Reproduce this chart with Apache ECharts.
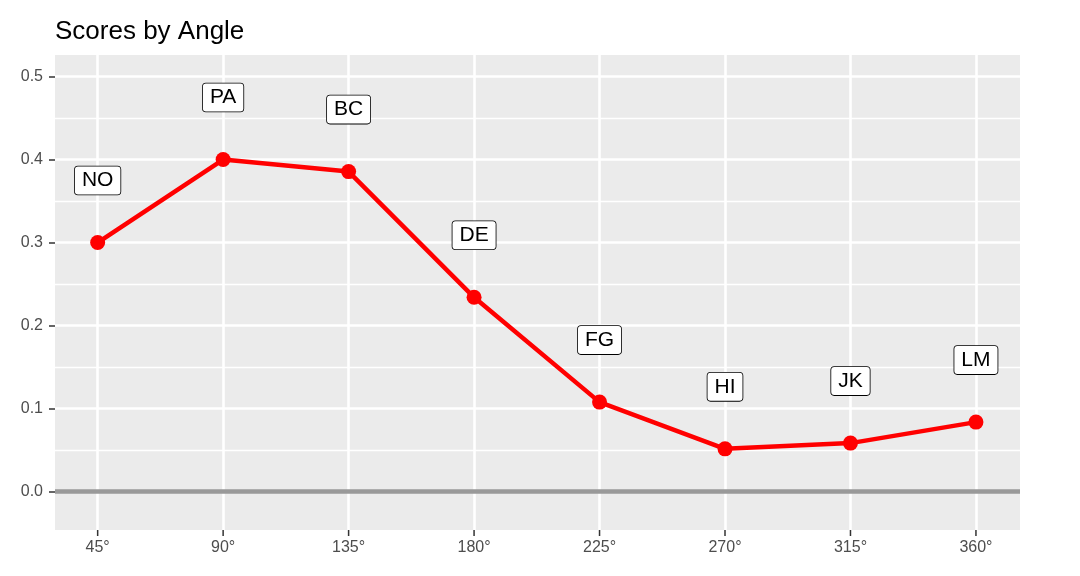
<!DOCTYPE html>
<html>
<head>
<meta charset="utf-8">
<script src="https://cdn.jsdelivr.net/npm/echarts@6/dist/echarts.min.js"></script>
<style>
html,body{margin:0;padding:0;background:#fff;}
#chart{width:1080px;height:576px;}
</style>
</head>
<body>
<div id="chart"></div>
<script>
var angles = [45, 90, 135, 180, 225, 270, 315, 360];
var names = ['NO', 'PA', 'BC', 'DE', 'FG', 'HI', 'JK', 'LM'];
var scores = [0.300, 0.400, 0.3855, 0.234, 0.1077, 0.0514, 0.0583, 0.0836];
var yTicks = [0, 0.1, 0.2, 0.3, 0.4, 0.5];
var yMinor = [0.05, 0.15, 0.25, 0.35, 0.45];
var xTicks = [45, 90, 135, 180, 225, 270, 315, 360];

var X_MIN = 29.7, X_MAX = 375.8;
var Y_MIN = -0.0464, Y_MAX = 0.526;

var FONT = '"Liberation Sans", Arial, Helvetica, sans-serif';
var chart = echarts.init(document.getElementById('chart'));

var lineData = angles.map(function (a, i) { return [a, scores[i], names[i]]; });

chart.setOption({
  animation: false,
  backgroundColor: '#ffffff',
  title: {
    text: 'Scores by Angle',
    left: 50,
    top: 14,
    textStyle: { fontFamily: FONT, fontSize: 26, fontWeight: 'normal', color: '#000000' }
  },
  grid: {
    left: 55, right: 60, top: 55, bottom: 46,
    show: true, backgroundColor: '#EBEBEB', borderWidth: 0
  },
  xAxis: {
    type: 'value',
    position: 'bottom',
    min: X_MIN,
    max: X_MAX,
    axisLine: { show: false, onZero: false },
    axisTick: { show: false, customValues: xTicks },
    axisLabel: {
      customValues: xTicks,
      formatter: function (v) { return v + '°'; },
      fontFamily: FONT, fontSize: 16, color: '#4D4D4D', margin: 10
    },
    splitLine: { show: true, lineStyle: { color: '#ffffff', width: 2.6 } }
  },
  yAxis: {
    type: 'value',
    min: Y_MIN,
    max: Y_MAX,
    axisLine: { show: false, onZero: false },
    axisTick: { show: true, length: 6, lineStyle: { color: '#333333', width: 1.5 }, customValues: yTicks },
    axisLabel: {
      customValues: yTicks,
      formatter: function (v) { return v.toFixed(1); },
      fontFamily: FONT, fontSize: 16, color: '#4D4D4D', margin: 12
    },
    splitLine: { show: true, lineStyle: { color: '#ffffff', width: 2.6 } }
  },
  series: [
    {
      type: 'line',
      data: [],
      z: 1,
      silent: true,
      markLine: {
        z: 1,
        silent: true,
        symbol: ['none', 'none'],
        label: { show: false },
        animation: false,
        lineStyle: { color: '#ffffff', width: 1.3, type: 'solid' },
        data: yMinor.map(function (v) { return { yAxis: v }; })
      }
    },
    {
      type: 'line',
      data: [],
      z: 1,
      silent: true,
      markLine: {
        z: 1,
        silent: true,
        symbol: ['none', 'none'],
        label: { show: false },
        animation: false,
        lineStyle: { color: '#999999', width: 4.5, type: 'solid' },
        data: [{ yAxis: 0 }]
      }
    },
    {
      // x-axis tick marks below the panel, positioned through the axis scale
      type: 'custom',
      silent: true,
      clip: false,
      z: 2,
      data: xTicks.map(function (v) { return [v]; }),
      renderItem: function (params, api) {
        var p = api.coord([api.value(0), Y_MIN]);
        return {
          type: 'line',
          shape: { x1: p[0], y1: p[1], x2: p[0], y2: p[1] + 6 },
          style: { stroke: '#333333', lineWidth: 1.5 }
        };
      }
    },
    {
      type: 'line',
      z: 5,
      data: lineData,
      symbol: 'circle',
      symbolSize: 15,
      lineStyle: { color: '#FF0000', width: 4.5 },
      itemStyle: { color: '#FF0000' },
      label: {
        show: true,
        position: 'inside',
        offset: [0, -62],
        formatter: function (p) { return p.data[2]; },
        fontFamily: FONT,
        fontSize: 21,
        color: '#000000',
        backgroundColor: '#ffffff',
        borderColor: '#000000',
        borderWidth: 0.8,
        borderRadius: 3,
        padding: [4, 7, 3, 7]
      }
    }
  ]
});
</script>
</body>
</html>
